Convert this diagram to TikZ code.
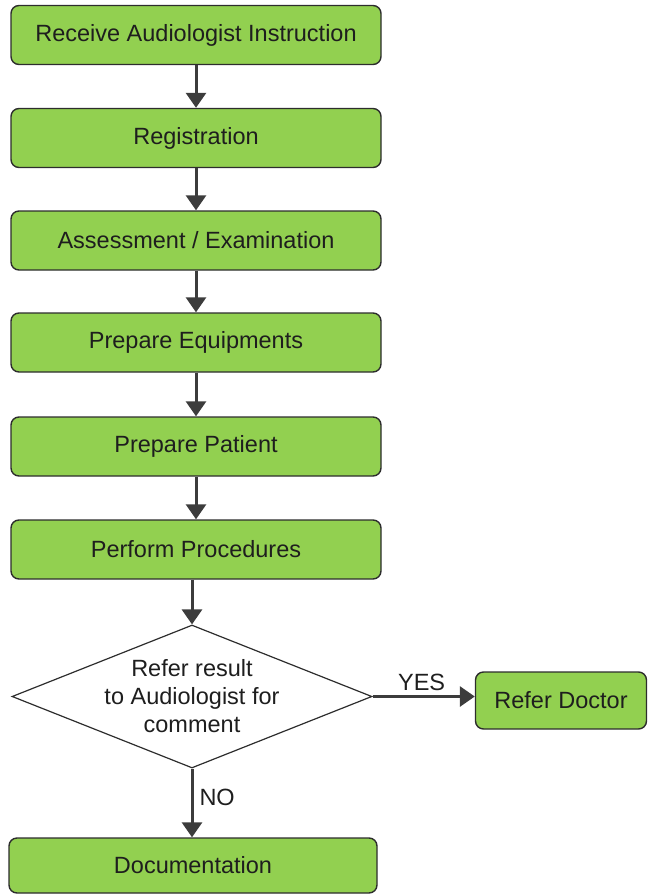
\documentclass[tikz,border=0pt]{standalone}
\usepackage{fontspec}
\setmainfont{Liberation Sans}
\usetikzlibrary{shapes.geometric,arrows.meta}
\definecolor{boxgreen}{RGB}{146,208,80}
\definecolor{edgegray}{RGB}{45,45,45}
\definecolor{arrowgray}{RGB}{60,60,60}
\definecolor{txt}{RGB}{30,30,30}
\begin{document}
\begin{tikzpicture}[x=1pt,y=1pt,
  stepbox/.style={draw=edgegray, line width=1.4pt, fill=boxgreen, rounded corners=8pt,
    minimum width=370pt, minimum height=59pt, inner sep=0pt, text=txt,
    font=\fontsize{23.5}{28}\selectfont},
  flow/.style={draw=arrowgray, line width=3pt, -{Triangle[width=20pt,length=15pt]}},
  lbl/.style={text=txt, font=\fontsize{23.5}{28}\selectfont, inner sep=0pt}
]
\useasboundingbox (0,0) rectangle (648,-894);
\node[stepbox] (n1) at (196,-35) {Receive Audiologist Instruction};
\node[stepbox] (n2) at (196,-138) {Registration};
\node[stepbox] (n3) at (196,-240.5) {Assessment / Examination};
\node[stepbox] (n4) at (196,-342.5) {Prepare Equipments};
\node[stepbox] (n5) at (196,-446.5) {Prepare Patient};
\node[stepbox] (n6) at (196,-549.5) {Perform Procedures};
\node[diamond, draw=edgegray, line width=1.2pt, fill=white, aspect=2.52,
  minimum width=360pt, minimum height=143pt, inner sep=0pt] (dec) at (192,-696.5) {};
\node[lbl, align=center] (dectext) at (dec) {Refer result\\to Audiologist for\\comment};
\node[stepbox, minimum width=171pt, minimum height=57pt] (doc) at (561,-700.5) {Refer Doctor};
\node[stepbox, minimum width=368pt, minimum height=55pt] (docu) at (193,-865.5) {Documentation};
\draw[flow] (n1) -- (n2);
\draw[flow] (n2) -- (n3);
\draw[flow] (n3) -- (n4);
\draw[flow] (n4) -- (n5);
\draw[flow] (n5) -- (n6);
\draw[flow] (n6.south -| dec.north) -- (dec.north);
\draw[flow] (dec.east) -- (dec.east -| doc.west) node[lbl, pos=0.48, above=4pt] (yes) {YES};
\draw[flow] (dec.south) -- (docu.north -| dec.south) node[lbl, pos=0.42, right=6pt] (no) {NO};
\end{tikzpicture}
\end{document}
